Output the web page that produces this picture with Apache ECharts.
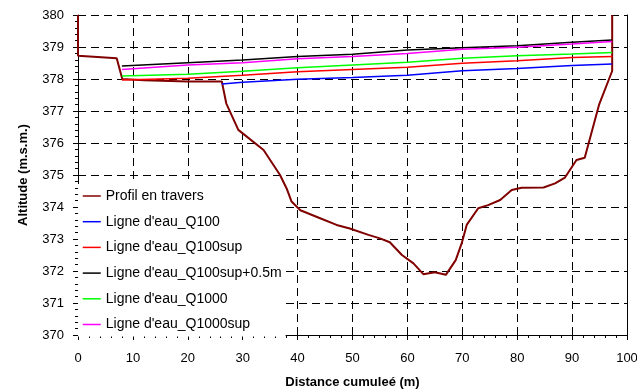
<!DOCTYPE html>
<html>
<head>
<meta charset="utf-8">
<script src="https://cdn.jsdelivr.net/npm/echarts@6/dist/echarts.min.js"></script>
<style>
  html, body { margin: 0; padding: 0; background: #fff; }
  #chart { width: 637px; height: 392px; }
</style>
</head>
<body>
<div id="chart"></div>
<script>
// profil en travers (distance, altitude)
const profileX = [0, 0, 7.05, 8.07, 12, 20, 26.2, 27.0, 29.2, 33.8, 36.8, 38.0, 38.9, 40.5, 44.1, 47.1, 49.5,
  52.9, 55.0, 56.8, 59.0, 61.1, 62.9, 65.0, 67.0, 68.8, 69.9, 70.8, 72.9, 74.7, 76.9, 79.0, 80.8, 84.8,
  86.9, 88.7, 90.8, 92.3, 94.9, 97.3, 97.3];
const profileY = [380, 378.73, 378.65, 378.0, 377.96, 377.92, 377.92, 377.24, 376.41, 375.78, 375.0, 374.58, 374.17,
  373.9, 373.65, 373.44, 373.33, 373.13, 373.02, 372.9, 372.5, 372.24, 371.9, 371.96, 371.88, 372.34, 372.87,
  373.44, 373.96, 374.06, 374.22, 374.53, 374.6, 374.61, 374.74, 374.92, 375.47, 375.54, 377.19, 378.25, 380];

// lignes d'eau
const waterX = [8, 20, 30, 40, 50, 60, 70, 80, 90, 97.3];
const q100X = [26.2, 30, 40, 50, 60, 70, 80, 90, 97.3];
const q100 = [377.84, 377.9, 377.99, 378.05, 378.12, 378.26, 378.33, 378.42, 378.47];
const q100sup = [377.97, 378.02, 378.12, 378.23, 378.30, 378.37, 378.49, 378.57, 378.67, 378.70];
const q100supPlus = [378.41, 378.51, 378.59, 378.70, 378.77, 378.91, 378.98, 379.04, 379.15, 379.22];
const q1000 = [378.09, 378.15, 378.24, 378.35, 378.44, 378.52, 378.65, 378.73, 378.78, 378.83];
const q1000sup = [378.30, 378.44, 378.51, 378.63, 378.70, 378.80, 378.93, 378.99, 379.09, 379.17];

const pairs = (xs, ys) => xs.map((x, i) => [x, ys[i]]);

const chart = echarts.init(document.getElementById("chart"));
const font = "Liberation Sans, Arial, sans-serif";
const dash = { color: "#000", width: 1, type: [8, 5] };

// z above the legend box so the profile stays visible where it crosses it
const line = (name, data, color, width) => ({
  name,
  type: "line",
  data,
  symbol: "none",
  z: 6,
  lineStyle: { color, width },
  itemStyle: { color }
});

chart.setOption({
  animation: false,
  grid: { left: 78, right: 10, top: 15, bottom: 57, outerBoundsMode: "none" },
  legend: {
    orient: "vertical",
    left: 78,
    top: 184,
    padding: [5, 4, 5, 4],
    itemWidth: 18,
    itemHeight: 14,
    itemGap: 11.7,
    backgroundColor: "#fff",
    itemStyle: { opacity: 0 },
    lineStyle: { width: 1.5 },
    textStyle: { fontFamily: font, fontSize: 14, color: "#000" },
    data: ["Profil en travers", "Ligne d'eau_Q100", "Ligne d'eau_Q100sup",
      "Ligne d'eau_Q100sup+0.5m", "Ligne d'eau_Q1000", "Ligne d'eau_Q1000sup"]
  },
  xAxis: {
    type: "value",
    min: 0,
    max: 100,
    interval: 10,
    name: "Distance cumuleé (m)",
    nameLocation: "middle",
    nameGap: 41,
    nameTextStyle: { fontFamily: font, fontSize: 13, fontWeight: "bold", color: "#000" },
    axisLine: { lineStyle: { color: "#000", width: 1 } },
    axisTick: { length: 5, lineStyle: { color: "#000" } },
    minorTick: { show: true, splitNumber: 5, length: 3, lineStyle: { color: "#000" } },
    axisLabel: { fontFamily: font, fontSize: 13, color: "#000", margin: 17 },
    splitLine: { show: true, lineStyle: dash }
  },
  yAxis: [
    {
      type: "value",
      min: 370,
      max: 380,
      interval: 1,
      name: "Altitude (m.s.m.)",
      nameLocation: "middle",
      nameGap: 48,
      nameTextStyle: { fontFamily: font, fontSize: 13, fontWeight: "bold", color: "#000" },
      axisLine: { show: true, lineStyle: { color: "#000", width: 1 } },
      axisTick: { length: 5, lineStyle: { color: "#000" } },
      minorTick: { show: true, splitNumber: 5, length: 3, lineStyle: { color: "#000" } },
      axisLabel: { fontFamily: font, fontSize: 13, color: "#000", margin: 14 },
      splitLine: { show: true, lineStyle: dash }
    },
    {
      type: "value",
      position: "right",
      min: 370,
      max: 380,
      interval: 1,
      axisLine: { show: true, onZero: false, lineStyle: { color: "#000", width: 1 } },
      axisTick: { show: false },
      axisLabel: { show: false },
      splitLine: { show: false }
    }
  ],
  series: [
    line("Profil en travers", pairs(profileX, profileY), "#800000", 2),
    line("Ligne d'eau_Q100", pairs(q100X, q100), "#0000ff", 1.5),
    line("Ligne d'eau_Q100sup", pairs(waterX, q100sup), "#ff0000", 1.5),
    line("Ligne d'eau_Q100sup+0.5m", pairs(waterX, q100supPlus), "#000000", 1.5),
    line("Ligne d'eau_Q1000", pairs(waterX, q1000), "#00ff00", 1.5),
    line("Ligne d'eau_Q1000sup", pairs(waterX, q1000sup), "#ff00ff", 1.5)
  ]
});
</script>
</body>
</html>
